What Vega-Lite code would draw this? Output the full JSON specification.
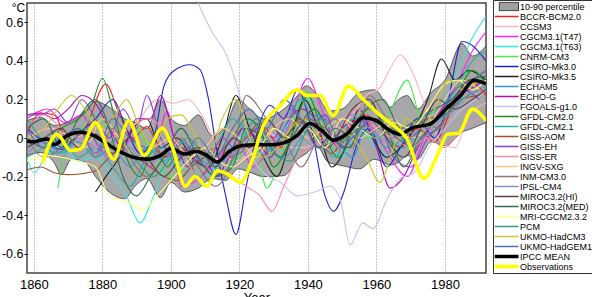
{
  "$schema": "https://vega.github.io/schema/vega-lite/v6.json",
  "width": 459,
  "height": 270,
  "autosize": {"type": "none"},
  "padding": {"left": 27, "top": 3, "right": 106, "bottom": 24},
  "background": "white",
  "config": {"view": {"stroke": "#444", "strokeWidth": 1.5}, "font": "Liberation Sans"},
  "datasets": {
    "band": [
      {"x":1858,"v":-0.09,"hi":0.09},{"x":1862,"v":-0.075,"hi":0.107},{"x":1866,"v":-0.13,"hi":0.065},{"x":1868,"v":-0.19,"hi":0.07},
      {"x":1871,"v":-0.11,"hi":0.09},{"x":1875,"v":-0.125,"hi":0.14},{"x":1878,"v":-0.2,"hi":0.19},{"x":1882,"v":-0.28,"hi":0.16},
      {"x":1886.5,"v":-0.315,"hi":0.1},{"x":1889.5,"v":-0.25,"hi":0.08},{"x":1893,"v":-0.21,"hi":0.05},{"x":1897,"v":-0.31,"hi":0.2},
      {"x":1900,"v":-0.23,"hi":0.1},{"x":1904,"v":-0.28,"hi":0.065},{"x":1908,"v":-0.26,"hi":0.12},{"x":1912,"v":-0.21,"hi":0.012},
      {"x":1916,"v":-0.22,"hi":0.064},{"x":1919.7,"v":-0.16,"hi":0.2},{"x":1923,"v":-0.177,"hi":0.15},{"x":1927,"v":-0.2,"hi":0.1},
      {"x":1933,"v":-0.195,"hi":0.15},{"x":1937,"v":-0.11,"hi":0.22},{"x":1939.5,"v":-0.08,"hi":0.27},{"x":1942.5,"v":-0.04,"hi":0.23},
      {"x":1946,"v":-0.126,"hi":0.14},{"x":1950,"v":-0.143,"hi":0.15},{"x":1955,"v":-0.16,"hi":0.236},{"x":1959.5,"v":-0.11,"hi":0.25},
      {"x":1964,"v":-0.14,"hi":0.16},{"x":1966.5,"v":-0.126,"hi":0.2},{"x":1969,"v":-0.09,"hi":0.22},{"x":1972,"v":-0.11,"hi":0.15},
      {"x":1976,"v":-0.02,"hi":0.236},{"x":1980,"v":-0.04,"hi":0.3},{"x":1985,"v":0.03,"hi":0.49},{"x":1988,"v":0.05,"hi":0.425},
      {"x":1992,"v":0.08,"hi":0.476}
    ],
    "big": [
      {"s":"IPCC MEAN","x":1858,"v":-0.015},{"s":"IPCC MEAN","x":1860,"v":-0.02},{"s":"IPCC MEAN","x":1862,"v":-0.01},{"s":"IPCC MEAN","x":1864,"v":-0.005},
      {"s":"IPCC MEAN","x":1866,"v":-0.035},{"s":"IPCC MEAN","x":1869.5,"v":0.01},{"s":"IPCC MEAN","x":1873.5,"v":0.03},{"s":"IPCC MEAN","x":1876.5,"v":0.02},
      {"s":"IPCC MEAN","x":1880.5,"v":-0.02},{"s":"IPCC MEAN","x":1884.5,"v":-0.065},{"s":"IPCC MEAN","x":1889,"v":-0.1},{"s":"IPCC MEAN","x":1893,"v":-0.11},
      {"s":"IPCC MEAN","x":1897,"v":-0.09},{"s":"IPCC MEAN","x":1900,"v":-0.055},{"s":"IPCC MEAN","x":1904,"v":-0.083},{"s":"IPCC MEAN","x":1907.5,"v":-0.07},
      {"s":"IPCC MEAN","x":1910.5,"v":-0.09},{"s":"IPCC MEAN","x":1913.5,"v":-0.125},{"s":"IPCC MEAN","x":1917,"v":-0.07},{"s":"IPCC MEAN","x":1920.5,"v":-0.04},
      {"s":"IPCC MEAN","x":1924.5,"v":-0.035},{"s":"IPCC MEAN","x":1929,"v":-0.035},{"s":"IPCC MEAN","x":1932,"v":-0.03},{"s":"IPCC MEAN","x":1936.8,"v":0.012},
      {"s":"IPCC MEAN","x":1940.5,"v":0.075},{"s":"IPCC MEAN","x":1944,"v":0.04},{"s":"IPCC MEAN","x":1947.5,"v":-0.012},{"s":"IPCC MEAN","x":1951.3,"v":0.02},
      {"s":"IPCC MEAN","x":1956.2,"v":0.105},{"s":"IPCC MEAN","x":1960,"v":0.09},{"s":"IPCC MEAN","x":1964,"v":0.038},{"s":"IPCC MEAN","x":1966.8,"v":0.02},
      {"s":"IPCC MEAN","x":1970.8,"v":0.055},{"s":"IPCC MEAN","x":1975.6,"v":0.072},{"s":"IPCC MEAN","x":1980.3,"v":0.15},{"s":"IPCC MEAN","x":1984.6,"v":0.22},
      {"s":"IPCC MEAN","x":1988.5,"v":0.3},{"s":"IPCC MEAN","x":1992,"v":0.28},
      {"s":"Observations","x":1862.5,"v":-0.13},{"s":"Observations","x":1866.8,"v":0.02},{"s":"Observations","x":1870.7,"v":-0.065},{"s":"Observations","x":1873.6,"v":-0.057},
      {"s":"Observations","x":1878,"v":0.08},{"s":"Observations","x":1883.3,"v":-0.11},{"s":"Observations","x":1887.7,"v":0.09},{"s":"Observations","x":1892.2,"v":-0.09},
      {"s":"Observations","x":1897.5,"v":0.05},{"s":"Observations","x":1900.5,"v":-0.05},{"s":"Observations","x":1904.2,"v":-0.25},{"s":"Observations","x":1907,"v":-0.2},
      {"s":"Observations","x":1910.5,"v":-0.25},{"s":"Observations","x":1913.5,"v":-0.17},{"s":"Observations","x":1916.4,"v":-0.186},{"s":"Observations","x":1920.4,"v":-0.23},
      {"s":"Observations","x":1923.5,"v":-0.126},{"s":"Observations","x":1927,"v":0.064},{"s":"Observations","x":1931.9,"v":0.167},{"s":"Observations","x":1936.8,"v":0.25},
      {"s":"Observations","x":1939.7,"v":0.22},{"s":"Observations","x":1943.6,"v":0.22},{"s":"Observations","x":1947.4,"v":0.115},{"s":"Observations","x":1951.8,"v":0.27},
      {"s":"Observations","x":1956.2,"v":0.2},{"s":"Observations","x":1960.1,"v":0.133},{"s":"Observations","x":1965,"v":0.064},{"s":"Observations","x":1968.8,"v":0.0},
      {"s":"Observations","x":1973.9,"v":-0.21},{"s":"Observations","x":1977.8,"v":-0.09},{"s":"Observations","x":1980.8,"v":0.02},{"s":"Observations","x":1984,"v":0.025},
      {"s":"Observations","x":1988,"v":0.15},{"s":"Observations","x":1992,"v":0.09}
    ],
    "models": [
      {"s":"BCCR-BCM2.0","x":1858,"v":0.02},{"s":"BCCR-BCM2.0","x":1862,"v":0.13},{"s":"BCCR-BCM2.0","x":1866,"v":0.12},{"s":"BCCR-BCM2.0","x":1870,"v":-0.02},{"s":"BCCR-BCM2.0","x":1875,"v":0.05},{"s":"BCCR-BCM2.0","x":1881,"v":0.28},{"s":"BCCR-BCM2.0","x":1885,"v":0.12},{"s":"BCCR-BCM2.0","x":1889,"v":0.0},{"s":"BCCR-BCM2.0","x":1893,"v":0.06},{"s":"BCCR-BCM2.0","x":1898,"v":-0.1},{"s":"BCCR-BCM2.0","x":1903,"v":-0.05},{"s":"BCCR-BCM2.0","x":1908,"v":-0.12},{"s":"BCCR-BCM2.0","x":1913,"v":-0.05},{"s":"BCCR-BCM2.0","x":1918,"v":-0.1},{"s":"BCCR-BCM2.0","x":1922,"v":0.0},{"s":"BCCR-BCM2.0","x":1927,"v":0.06},{"s":"BCCR-BCM2.0","x":1932,"v":-0.05},{"s":"BCCR-BCM2.0","x":1937,"v":0.1},{"s":"BCCR-BCM2.0","x":1942,"v":0.02},{"s":"BCCR-BCM2.0","x":1947,"v":-0.08},{"s":"BCCR-BCM2.0","x":1952,"v":0.06},{"s":"BCCR-BCM2.0","x":1957,"v":0.12},{"s":"BCCR-BCM2.0","x":1962,"v":0.02},{"s":"BCCR-BCM2.0","x":1967,"v":-0.05},{"s":"BCCR-BCM2.0","x":1972,"v":0.05},{"s":"BCCR-BCM2.0","x":1977,"v":-0.02},{"s":"BCCR-BCM2.0","x":1982,"v":0.15},{"s":"BCCR-BCM2.0","x":1987,"v":0.3},{"s":"BCCR-BCM2.0","x":1992,"v":0.22},
      {"s":"CCSM3","x":1858,"v":0.0},{"s":"CCSM3","x":1865,"v":0.05},{"s":"CCSM3","x":1872,"v":0.0},{"s":"CCSM3","x":1878,"v":0.06},{"s":"CCSM3","x":1884,"v":0.02},{"s":"CCSM3","x":1890,"v":0.08},{"s":"CCSM3","x":1896,"v":0.2},{"s":"CCSM3","x":1901,"v":0.18},{"s":"CCSM3","x":1905,"v":0.2},{"s":"CCSM3","x":1909,"v":0.12},{"s":"CCSM3","x":1914,"v":-0.05},{"s":"CCSM3","x":1919,"v":-0.12},{"s":"CCSM3","x":1924,"v":-0.05},{"s":"CCSM3","x":1929,"v":0.02},{"s":"CCSM3","x":1934,"v":-0.05},{"s":"CCSM3","x":1939,"v":-0.05},{"s":"CCSM3","x":1944,"v":0.0},{"s":"CCSM3","x":1949,"v":0.05},{"s":"CCSM3","x":1953,"v":0.12},{"s":"CCSM3","x":1957,"v":0.22},{"s":"CCSM3","x":1961,"v":0.26},{"s":"CCSM3","x":1964,"v":0.36},{"s":"CCSM3","x":1967,"v":0.43},{"s":"CCSM3","x":1971,"v":0.32},{"s":"CCSM3","x":1975,"v":0.13},{"s":"CCSM3","x":1979,"v":-0.02},{"s":"CCSM3","x":1983,"v":-0.05},{"s":"CCSM3","x":1987,"v":0.12},{"s":"CCSM3","x":1992,"v":0.18},
      {"s":"CGCM3.1(T47)","x":1858,"v":0.1},{"s":"CGCM3.1(T47)","x":1864,"v":0.15},{"s":"CGCM3.1(T47)","x":1869,"v":0.08},{"s":"CGCM3.1(T47)","x":1874,"v":0.12},{"s":"CGCM3.1(T47)","x":1879,"v":-0.05},{"s":"CGCM3.1(T47)","x":1884,"v":-0.1},{"s":"CGCM3.1(T47)","x":1889,"v":0.0},{"s":"CGCM3.1(T47)","x":1894,"v":-0.15},{"s":"CGCM3.1(T47)","x":1899,"v":0.14},{"s":"CGCM3.1(T47)","x":1903,"v":-0.25},{"s":"CGCM3.1(T47)","x":1909,"v":-0.2},{"s":"CGCM3.1(T47)","x":1914,"v":-0.1},{"s":"CGCM3.1(T47)","x":1919,"v":0.0},{"s":"CGCM3.1(T47)","x":1924,"v":-0.15},{"s":"CGCM3.1(T47)","x":1929,"v":-0.05},{"s":"CGCM3.1(T47)","x":1934,"v":0.05},{"s":"CGCM3.1(T47)","x":1940,"v":0.31},{"s":"CGCM3.1(T47)","x":1944,"v":0.15},{"s":"CGCM3.1(T47)","x":1949,"v":-0.05},{"s":"CGCM3.1(T47)","x":1954,"v":0.1},{"s":"CGCM3.1(T47)","x":1959,"v":0.05},{"s":"CGCM3.1(T47)","x":1964,"v":-0.1},{"s":"CGCM3.1(T47)","x":1969,"v":-0.2},{"s":"CGCM3.1(T47)","x":1974,"v":0.0},{"s":"CGCM3.1(T47)","x":1979,"v":0.15},{"s":"CGCM3.1(T47)","x":1984,"v":0.3},{"s":"CGCM3.1(T47)","x":1988,"v":0.45},{"s":"CGCM3.1(T47)","x":1992,"v":0.55},
      {"s":"CGCM3.1(T63)","x":1858,"v":-0.1},{"s":"CGCM3.1(T63)","x":1860,"v":-0.18},{"s":"CGCM3.1(T63)","x":1864,"v":-0.08},{"s":"CGCM3.1(T63)","x":1868,"v":-0.05},{"s":"CGCM3.1(T63)","x":1873,"v":-0.12},{"s":"CGCM3.1(T63)","x":1878,"v":-0.1},{"s":"CGCM3.1(T63)","x":1883,"v":-0.2},{"s":"CGCM3.1(T63)","x":1887,"v":-0.3},{"s":"CGCM3.1(T63)","x":1891,"v":-0.44},{"s":"CGCM3.1(T63)","x":1895,"v":-0.3},{"s":"CGCM3.1(T63)","x":1900,"v":-0.1},{"s":"CGCM3.1(T63)","x":1905,"v":-0.15},{"s":"CGCM3.1(T63)","x":1910,"v":-0.2},{"s":"CGCM3.1(T63)","x":1915,"v":-0.1},{"s":"CGCM3.1(T63)","x":1920,"v":0.0},{"s":"CGCM3.1(T63)","x":1925,"v":0.05},{"s":"CGCM3.1(T63)","x":1930,"v":-0.05},{"s":"CGCM3.1(T63)","x":1935,"v":0.1},{"s":"CGCM3.1(T63)","x":1940,"v":0.2},{"s":"CGCM3.1(T63)","x":1945,"v":0.0},{"s":"CGCM3.1(T63)","x":1950,"v":-0.1},{"s":"CGCM3.1(T63)","x":1955,"v":0.05},{"s":"CGCM3.1(T63)","x":1960,"v":-0.05},{"s":"CGCM3.1(T63)","x":1965,"v":-0.1},{"s":"CGCM3.1(T63)","x":1970,"v":0.05},{"s":"CGCM3.1(T63)","x":1975,"v":0.1},{"s":"CGCM3.1(T63)","x":1980,"v":0.2},{"s":"CGCM3.1(T63)","x":1985,"v":0.4},{"s":"CGCM3.1(T63)","x":1988,"v":0.52},{"s":"CGCM3.1(T63)","x":1992,"v":0.63},
      {"s":"CNRM-CM3","x":1867,"v":-0.26},{"s":"CNRM-CM3","x":1870,"v":-0.02},{"s":"CNRM-CM3","x":1874,"v":0.05},{"s":"CNRM-CM3","x":1878,"v":0.12},{"s":"CNRM-CM3","x":1882,"v":0.05},{"s":"CNRM-CM3","x":1886,"v":0.1},{"s":"CNRM-CM3","x":1890,"v":0.05},{"s":"CNRM-CM3","x":1895,"v":-0.1},{"s":"CNRM-CM3","x":1900,"v":-0.2},{"s":"CNRM-CM3","x":1905,"v":-0.15},{"s":"CNRM-CM3","x":1910,"v":-0.25},{"s":"CNRM-CM3","x":1915,"v":-0.15},{"s":"CNRM-CM3","x":1920,"v":-0.1},{"s":"CNRM-CM3","x":1924,"v":0.0},{"s":"CNRM-CM3","x":1928,"v":-0.26},{"s":"CNRM-CM3","x":1932,"v":-0.1},{"s":"CNRM-CM3","x":1936,"v":0.1},{"s":"CNRM-CM3","x":1939,"v":0.24},{"s":"CNRM-CM3","x":1943,"v":0.1},{"s":"CNRM-CM3","x":1948,"v":-0.05},{"s":"CNRM-CM3","x":1953,"v":0.02},{"s":"CNRM-CM3","x":1958,"v":0.0},{"s":"CNRM-CM3","x":1963,"v":0.1},{"s":"CNRM-CM3","x":1969,"v":0.3},{"s":"CNRM-CM3","x":1973,"v":0.1},{"s":"CNRM-CM3","x":1978,"v":0.05},{"s":"CNRM-CM3","x":1983,"v":0.25},{"s":"CNRM-CM3","x":1988,"v":0.35},{"s":"CNRM-CM3","x":1992,"v":0.3},
      {"s":"CSIRO-Mk3.0","x":1858,"v":0.05},{"s":"CSIRO-Mk3.0","x":1863,"v":-0.02},{"s":"CSIRO-Mk3.0","x":1868,"v":-0.06},{"s":"CSIRO-Mk3.0","x":1873,"v":0.02},{"s":"CSIRO-Mk3.0","x":1878,"v":0.1},{"s":"CSIRO-Mk3.0","x":1883,"v":0.2},{"s":"CSIRO-Mk3.0","x":1887,"v":0.05},{"s":"CSIRO-Mk3.0","x":1891,"v":-0.08},{"s":"CSIRO-Mk3.0","x":1895,"v":0.0},{"s":"CSIRO-Mk3.0","x":1898,"v":0.27},{"s":"CSIRO-Mk3.0","x":1901,"v":0.35},{"s":"CSIRO-Mk3.0","x":1905.5,"v":0.38},{"s":"CSIRO-Mk3.0","x":1908.5,"v":0.355},{"s":"CSIRO-Mk3.0","x":1911,"v":0.2},{"s":"CSIRO-Mk3.0","x":1913,"v":-0.02},{"s":"CSIRO-Mk3.0","x":1916,"v":-0.3},{"s":"CSIRO-Mk3.0","x":1919,"v":-0.5},{"s":"CSIRO-Mk3.0","x":1922,"v":-0.25},{"s":"CSIRO-Mk3.0","x":1925.5,"v":0.05},{"s":"CSIRO-Mk3.0","x":1929,"v":0.17},{"s":"CSIRO-Mk3.0","x":1933,"v":0.1},{"s":"CSIRO-Mk3.0","x":1937,"v":0.25},{"s":"CSIRO-Mk3.0","x":1941,"v":0.05},{"s":"CSIRO-Mk3.0","x":1945,"v":-0.3},{"s":"CSIRO-Mk3.0","x":1947.5,"v":-0.38},{"s":"CSIRO-Mk3.0","x":1950.5,"v":-0.28},{"s":"CSIRO-Mk3.0","x":1954,"v":-0.05},{"s":"CSIRO-Mk3.0","x":1958,"v":0.05},{"s":"CSIRO-Mk3.0","x":1963,"v":-0.15},{"s":"CSIRO-Mk3.0","x":1967,"v":-0.05},{"s":"CSIRO-Mk3.0","x":1972,"v":0.1},{"s":"CSIRO-Mk3.0","x":1977,"v":0.0},{"s":"CSIRO-Mk3.0","x":1981,"v":0.2},{"s":"CSIRO-Mk3.0","x":1985,"v":0.5},{"s":"CSIRO-Mk3.0","x":1988,"v":0.48},{"s":"CSIRO-Mk3.0","x":1992,"v":0.4},
      {"s":"CSIRO-Mk3.5","x":1878,"v":-0.28},{"s":"CSIRO-Mk3.5","x":1881,"v":-0.2},{"s":"CSIRO-Mk3.5","x":1885,"v":-0.1},{"s":"CSIRO-Mk3.5","x":1889,"v":0.05},{"s":"CSIRO-Mk3.5","x":1893,"v":0.1},{"s":"CSIRO-Mk3.5","x":1897,"v":-0.05},{"s":"CSIRO-Mk3.5","x":1902,"v":0.0},{"s":"CSIRO-Mk3.5","x":1906,"v":-0.1},{"s":"CSIRO-Mk3.5","x":1911,"v":-0.15},{"s":"CSIRO-Mk3.5","x":1915,"v":0.0},{"s":"CSIRO-Mk3.5","x":1919,"v":0.22},{"s":"CSIRO-Mk3.5","x":1923,"v":0.05},{"s":"CSIRO-Mk3.5","x":1927,"v":-0.1},{"s":"CSIRO-Mk3.5","x":1931,"v":-0.2},{"s":"CSIRO-Mk3.5","x":1935,"v":0.0},{"s":"CSIRO-Mk3.5","x":1939,"v":0.2},{"s":"CSIRO-Mk3.5","x":1943,"v":0.05},{"s":"CSIRO-Mk3.5","x":1947,"v":-0.15},{"s":"CSIRO-Mk3.5","x":1951,"v":-0.05},{"s":"CSIRO-Mk3.5","x":1955,"v":0.15},{"s":"CSIRO-Mk3.5","x":1959,"v":0.0},{"s":"CSIRO-Mk3.5","x":1963,"v":-0.1},{"s":"CSIRO-Mk3.5","x":1967,"v":-0.05},{"s":"CSIRO-Mk3.5","x":1971,"v":0.05},{"s":"CSIRO-Mk3.5","x":1975,"v":0.2},{"s":"CSIRO-Mk3.5","x":1979,"v":0.41},{"s":"CSIRO-Mk3.5","x":1983,"v":0.3},{"s":"CSIRO-Mk3.5","x":1987,"v":0.35},{"s":"CSIRO-Mk3.5","x":1992,"v":0.3},
      {"s":"ECHAM5","x":1858,"v":-0.05},{"s":"ECHAM5","x":1863,"v":0.0},{"s":"ECHAM5","x":1868,"v":-0.08},{"s":"ECHAM5","x":1873,"v":-0.02},{"s":"ECHAM5","x":1878,"v":-0.1},{"s":"ECHAM5","x":1883,"v":-0.05},{"s":"ECHAM5","x":1888,"v":-0.15},{"s":"ECHAM5","x":1893,"v":-0.05},{"s":"ECHAM5","x":1898,"v":-0.12},{"s":"ECHAM5","x":1903,"v":-0.02},{"s":"ECHAM5","x":1908,"v":-0.1},{"s":"ECHAM5","x":1913,"v":-0.15},{"s":"ECHAM5","x":1918,"v":-0.05},{"s":"ECHAM5","x":1923,"v":0.1},{"s":"ECHAM5","x":1928,"v":-0.05},{"s":"ECHAM5","x":1933,"v":-0.1},{"s":"ECHAM5","x":1938,"v":0.0},{"s":"ECHAM5","x":1943,"v":0.12},{"s":"ECHAM5","x":1948,"v":0.0},{"s":"ECHAM5","x":1953,"v":-0.1},{"s":"ECHAM5","x":1958,"v":0.1},{"s":"ECHAM5","x":1963,"v":0.0},{"s":"ECHAM5","x":1968,"v":-0.05},{"s":"ECHAM5","x":1973,"v":0.05},{"s":"ECHAM5","x":1978,"v":0.1},{"s":"ECHAM5","x":1983,"v":0.15},{"s":"ECHAM5","x":1988,"v":0.3},{"s":"ECHAM5","x":1992,"v":0.25},
      {"s":"ECHO-G","x":1858,"v":0.12},{"s":"ECHO-G","x":1862,"v":0.13},{"s":"ECHO-G","x":1866,"v":0.1},{"s":"ECHO-G","x":1870,"v":0.15},{"s":"ECHO-G","x":1874,"v":0.22},{"s":"ECHO-G","x":1878,"v":0.18},{"s":"ECHO-G","x":1882,"v":0.05},{"s":"ECHO-G","x":1886,"v":-0.05},{"s":"ECHO-G","x":1890,"v":0.1},{"s":"ECHO-G","x":1894,"v":0.1},{"s":"ECHO-G","x":1897,"v":0.22},{"s":"ECHO-G","x":1901,"v":0.0},{"s":"ECHO-G","x":1905,"v":-0.15},{"s":"ECHO-G","x":1909,"v":-0.05},{"s":"ECHO-G","x":1913,"v":-0.2},{"s":"ECHO-G","x":1917,"v":-0.1},{"s":"ECHO-G","x":1921,"v":0.05},{"s":"ECHO-G","x":1925,"v":0.0},{"s":"ECHO-G","x":1929,"v":-0.1},{"s":"ECHO-G","x":1933,"v":0.05},{"s":"ECHO-G","x":1938,"v":0.15},{"s":"ECHO-G","x":1942,"v":0.1},{"s":"ECHO-G","x":1946,"v":-0.05},{"s":"ECHO-G","x":1950,"v":0.05},{"s":"ECHO-G","x":1955,"v":0.1},{"s":"ECHO-G","x":1960,"v":-0.05},{"s":"ECHO-G","x":1964,"v":-0.26},{"s":"ECHO-G","x":1968,"v":-0.2},{"s":"ECHO-G","x":1972,"v":-0.05},{"s":"ECHO-G","x":1977,"v":0.1},{"s":"ECHO-G","x":1982,"v":0.2},{"s":"ECHO-G","x":1987,"v":0.25},{"s":"ECHO-G","x":1992,"v":0.3},
      {"s":"FGOALS-g1.0","x":1900,"v":1.1},{"s":"FGOALS-g1.0","x":1905,"v":0.85},{"s":"FGOALS-g1.0","x":1908,"v":0.7},{"s":"FGOALS-g1.0","x":1912,"v":0.55},{"s":"FGOALS-g1.0","x":1916,"v":0.44},{"s":"FGOALS-g1.0","x":1919,"v":0.29},{"s":"FGOALS-g1.0","x":1921,"v":0.15},{"s":"FGOALS-g1.0","x":1923,"v":-0.05},{"s":"FGOALS-g1.0","x":1927,"v":-0.18},{"s":"FGOALS-g1.0","x":1932,"v":-0.23},{"s":"FGOALS-g1.0","x":1937,"v":-0.3},{"s":"FGOALS-g1.0","x":1942,"v":-0.28},{"s":"FGOALS-g1.0","x":1946.5,"v":-0.25},{"s":"FGOALS-g1.0","x":1949.5,"v":-0.32},{"s":"FGOALS-g1.0","x":1952.3,"v":-0.555},{"s":"FGOALS-g1.0","x":1956,"v":-0.44},{"s":"FGOALS-g1.0","x":1959,"v":-0.47},{"s":"FGOALS-g1.0","x":1963,"v":-0.32},{"s":"FGOALS-g1.0","x":1967,"v":-0.21},{"s":"FGOALS-g1.0","x":1971,"v":-0.18},{"s":"FGOALS-g1.0","x":1975.6,"v":-0.04},{"s":"FGOALS-g1.0","x":1980,"v":0.05},{"s":"FGOALS-g1.0","x":1985,"v":0.15},{"s":"FGOALS-g1.0","x":1989,"v":0.2},{"s":"FGOALS-g1.0","x":1992,"v":0.25},
      {"s":"GFDL-CM2.0","x":1858,"v":0.0},{"s":"GFDL-CM2.0","x":1863,"v":-0.05},{"s":"GFDL-CM2.0","x":1868,"v":0.05},{"s":"GFDL-CM2.0","x":1873,"v":0.1},{"s":"GFDL-CM2.0","x":1877,"v":0.18},{"s":"GFDL-CM2.0","x":1880,"v":0.31},{"s":"GFDL-CM2.0","x":1883,"v":0.15},{"s":"GFDL-CM2.0","x":1887,"v":-0.1},{"s":"GFDL-CM2.0","x":1891,"v":-0.2},{"s":"GFDL-CM2.0","x":1895,"v":-0.05},{"s":"GFDL-CM2.0","x":1899,"v":-0.15},{"s":"GFDL-CM2.0","x":1903,"v":-0.05},{"s":"GFDL-CM2.0","x":1908,"v":-0.2},{"s":"GFDL-CM2.0","x":1913,"v":-0.1},{"s":"GFDL-CM2.0","x":1918,"v":0.0},{"s":"GFDL-CM2.0","x":1922,"v":0.1},{"s":"GFDL-CM2.0","x":1926,"v":0.05},{"s":"GFDL-CM2.0","x":1930,"v":-0.15},{"s":"GFDL-CM2.0","x":1935,"v":0.0},{"s":"GFDL-CM2.0","x":1940,"v":0.22},{"s":"GFDL-CM2.0","x":1944,"v":0.05},{"s":"GFDL-CM2.0","x":1949,"v":-0.1},{"s":"GFDL-CM2.0","x":1953,"v":0.05},{"s":"GFDL-CM2.0","x":1958,"v":0.15},{"s":"GFDL-CM2.0","x":1963,"v":0.05},{"s":"GFDL-CM2.0","x":1968,"v":-0.15},{"s":"GFDL-CM2.0","x":1973,"v":0.0},{"s":"GFDL-CM2.0","x":1978,"v":0.05},{"s":"GFDL-CM2.0","x":1983,"v":0.2},{"s":"GFDL-CM2.0","x":1988,"v":0.35},{"s":"GFDL-CM2.0","x":1992,"v":0.28},
      {"s":"GFDL-CM2.1","x":1858,"v":-0.1},{"s":"GFDL-CM2.1","x":1863,"v":-0.05},{"s":"GFDL-CM2.1","x":1868,"v":0.0},{"s":"GFDL-CM2.1","x":1873,"v":-0.1},{"s":"GFDL-CM2.1","x":1878,"v":-0.05},{"s":"GFDL-CM2.1","x":1883,"v":-0.15},{"s":"GFDL-CM2.1","x":1888,"v":-0.25},{"s":"GFDL-CM2.1","x":1893,"v":-0.1},{"s":"GFDL-CM2.1","x":1898,"v":-0.05},{"s":"GFDL-CM2.1","x":1903,"v":-0.2},{"s":"GFDL-CM2.1","x":1908,"v":-0.1},{"s":"GFDL-CM2.1","x":1913,"v":-0.05},{"s":"GFDL-CM2.1","x":1918,"v":0.1},{"s":"GFDL-CM2.1","x":1923,"v":0.0},{"s":"GFDL-CM2.1","x":1928,"v":-0.1},{"s":"GFDL-CM2.1","x":1933,"v":0.05},{"s":"GFDL-CM2.1","x":1938,"v":0.2},{"s":"GFDL-CM2.1","x":1943,"v":0.0},{"s":"GFDL-CM2.1","x":1948,"v":-0.1},{"s":"GFDL-CM2.1","x":1953,"v":0.1},{"s":"GFDL-CM2.1","x":1958,"v":0.05},{"s":"GFDL-CM2.1","x":1963,"v":-0.05},{"s":"GFDL-CM2.1","x":1968,"v":0.0},{"s":"GFDL-CM2.1","x":1973,"v":0.1},{"s":"GFDL-CM2.1","x":1978,"v":0.15},{"s":"GFDL-CM2.1","x":1983,"v":0.25},{"s":"GFDL-CM2.1","x":1988,"v":0.4},{"s":"GFDL-CM2.1","x":1992,"v":0.45},
      {"s":"GISS-AOM","x":1858,"v":-0.165},{"s":"GISS-AOM","x":1862,"v":-0.15},{"s":"GISS-AOM","x":1866,"v":-0.18},{"s":"GISS-AOM","x":1870,"v":-0.19},{"s":"GISS-AOM","x":1874,"v":-0.185},{"s":"GISS-AOM","x":1878,"v":-0.17},{"s":"GISS-AOM","x":1882,"v":-0.1},{"s":"GISS-AOM","x":1886,"v":-0.05},{"s":"GISS-AOM","x":1890,"v":-0.1},{"s":"GISS-AOM","x":1894,"v":-0.15},{"s":"GISS-AOM","x":1898,"v":-0.2},{"s":"GISS-AOM","x":1902,"v":-0.22},{"s":"GISS-AOM","x":1906,"v":-0.15},{"s":"GISS-AOM","x":1910,"v":-0.1},{"s":"GISS-AOM","x":1914,"v":-0.12},{"s":"GISS-AOM","x":1918,"v":-0.05},{"s":"GISS-AOM","x":1922,"v":0.0},{"s":"GISS-AOM","x":1926,"v":0.08},{"s":"GISS-AOM","x":1930,"v":-0.05},{"s":"GISS-AOM","x":1935,"v":0.05},{"s":"GISS-AOM","x":1940,"v":0.1},{"s":"GISS-AOM","x":1945,"v":0.05},{"s":"GISS-AOM","x":1950,"v":0.0},{"s":"GISS-AOM","x":1955,"v":0.05},{"s":"GISS-AOM","x":1960,"v":0.08},{"s":"GISS-AOM","x":1965,"v":0.0},{"s":"GISS-AOM","x":1970,"v":0.05},{"s":"GISS-AOM","x":1975,"v":0.1},{"s":"GISS-AOM","x":1980,"v":0.12},{"s":"GISS-AOM","x":1985,"v":0.2},{"s":"GISS-AOM","x":1990,"v":0.22},
      {"s":"GISS-EH","x":1858,"v":0.12},{"s":"GISS-EH","x":1862,"v":0.12},{"s":"GISS-EH","x":1866,"v":0.15},{"s":"GISS-EH","x":1870,"v":0.08},{"s":"GISS-EH","x":1874,"v":0.2},{"s":"GISS-EH","x":1878,"v":0.1},{"s":"GISS-EH","x":1882,"v":0.0},{"s":"GISS-EH","x":1886,"v":0.15},{"s":"GISS-EH","x":1890,"v":0.05},{"s":"GISS-EH","x":1893,"v":0.22},{"s":"GISS-EH","x":1897,"v":0.0},{"s":"GISS-EH","x":1901,"v":-0.1},{"s":"GISS-EH","x":1905,"v":-0.05},{"s":"GISS-EH","x":1910,"v":-0.15},{"s":"GISS-EH","x":1915,"v":0.0},{"s":"GISS-EH","x":1920,"v":-0.08},{"s":"GISS-EH","x":1925,"v":0.05},{"s":"GISS-EH","x":1930,"v":0.0},{"s":"GISS-EH","x":1935,"v":0.15},{"s":"GISS-EH","x":1940,"v":0.05},{"s":"GISS-EH","x":1945,"v":0.12},{"s":"GISS-EH","x":1950,"v":-0.05},{"s":"GISS-EH","x":1955,"v":0.05},{"s":"GISS-EH","x":1960,"v":0.1},{"s":"GISS-EH","x":1965,"v":-0.1},{"s":"GISS-EH","x":1970,"v":-0.15},{"s":"GISS-EH","x":1975,"v":0.0},{"s":"GISS-EH","x":1980,"v":0.1},{"s":"GISS-EH","x":1985,"v":0.25},{"s":"GISS-EH","x":1990,"v":0.2},
      {"s":"GISS-ER","x":1858,"v":0.05},{"s":"GISS-ER","x":1863,"v":0.12},{"s":"GISS-ER","x":1868,"v":0.05},{"s":"GISS-ER","x":1873,"v":0.0},{"s":"GISS-ER","x":1878,"v":-0.05},{"s":"GISS-ER","x":1883,"v":0.0},{"s":"GISS-ER","x":1888,"v":0.05},{"s":"GISS-ER","x":1893,"v":0.1},{"s":"GISS-ER","x":1898,"v":0.05},{"s":"GISS-ER","x":1903,"v":-0.05},{"s":"GISS-ER","x":1908,"v":-0.2},{"s":"GISS-ER","x":1913,"v":-0.1},{"s":"GISS-ER","x":1918,"v":-0.2},{"s":"GISS-ER","x":1922,"v":-0.25},{"s":"GISS-ER","x":1926,"v":-0.3},{"s":"GISS-ER","x":1929.5,"v":-0.38},{"s":"GISS-ER","x":1933,"v":-0.25},{"s":"GISS-ER","x":1937,"v":-0.1},{"s":"GISS-ER","x":1941,"v":-0.05},{"s":"GISS-ER","x":1945,"v":0.0},{"s":"GISS-ER","x":1950,"v":0.1},{"s":"GISS-ER","x":1955,"v":0.15},{"s":"GISS-ER","x":1960,"v":0.05},{"s":"GISS-ER","x":1965,"v":0.0},{"s":"GISS-ER","x":1970,"v":-0.05},{"s":"GISS-ER","x":1975,"v":0.0},{"s":"GISS-ER","x":1980,"v":-0.05},{"s":"GISS-ER","x":1985,"v":0.05},{"s":"GISS-ER","x":1990,"v":0.1},
      {"s":"INGV-SXG","x":1870,"v":0.0},{"s":"INGV-SXG","x":1875,"v":-0.05},{"s":"INGV-SXG","x":1880,"v":0.1},{"s":"INGV-SXG","x":1885,"v":0.0},{"s":"INGV-SXG","x":1890,"v":-0.1},{"s":"INGV-SXG","x":1895,"v":-0.05},{"s":"INGV-SXG","x":1900,"v":0.0},{"s":"INGV-SXG","x":1905,"v":-0.1},{"s":"INGV-SXG","x":1910,"v":-0.05},{"s":"INGV-SXG","x":1915,"v":0.05},{"s":"INGV-SXG","x":1920,"v":0.0},{"s":"INGV-SXG","x":1925,"v":-0.1},{"s":"INGV-SXG","x":1930,"v":0.05},{"s":"INGV-SXG","x":1935,"v":0.1},{"s":"INGV-SXG","x":1940,"v":0.0},{"s":"INGV-SXG","x":1945,"v":0.05},{"s":"INGV-SXG","x":1950,"v":0.1},{"s":"INGV-SXG","x":1955,"v":0.0},{"s":"INGV-SXG","x":1960,"v":0.05},{"s":"INGV-SXG","x":1965,"v":0.1},{"s":"INGV-SXG","x":1970,"v":0.0},{"s":"INGV-SXG","x":1975,"v":0.05},{"s":"INGV-SXG","x":1980,"v":0.2},{"s":"INGV-SXG","x":1985,"v":0.3},{"s":"INGV-SXG","x":1990,"v":0.25},
      {"s":"INM-CM3.0","x":1858,"v":0.0},{"s":"INM-CM3.0","x":1863,"v":-0.1},{"s":"INM-CM3.0","x":1868,"v":-0.05},{"s":"INM-CM3.0","x":1873,"v":0.05},{"s":"INM-CM3.0","x":1878,"v":-0.1},{"s":"INM-CM3.0","x":1883,"v":0.05},{"s":"INM-CM3.0","x":1888,"v":-0.1},{"s":"INM-CM3.0","x":1893,"v":-0.2},{"s":"INM-CM3.0","x":1898,"v":-0.1},{"s":"INM-CM3.0","x":1903,"v":0.0},{"s":"INM-CM3.0","x":1908,"v":-0.15},{"s":"INM-CM3.0","x":1913,"v":-0.25},{"s":"INM-CM3.0","x":1918,"v":-0.1},{"s":"INM-CM3.0","x":1922,"v":0.22},{"s":"INM-CM3.0","x":1928,"v":0.1},{"s":"INM-CM3.0","x":1933,"v":0.0},{"s":"INM-CM3.0","x":1938,"v":-0.15},{"s":"INM-CM3.0","x":1943,"v":0.0},{"s":"INM-CM3.0","x":1948,"v":0.1},{"s":"INM-CM3.0","x":1953,"v":-0.05},{"s":"INM-CM3.0","x":1958,"v":0.22},{"s":"INM-CM3.0","x":1963,"v":0.1},{"s":"INM-CM3.0","x":1968,"v":0.0},{"s":"INM-CM3.0","x":1973,"v":0.1},{"s":"INM-CM3.0","x":1978,"v":0.05},{"s":"INM-CM3.0","x":1983,"v":0.2},{"s":"INM-CM3.0","x":1988,"v":0.3},{"s":"INM-CM3.0","x":1992,"v":0.35},
      {"s":"IPSL-CM4","x":1858,"v":-0.08},{"s":"IPSL-CM4","x":1863,"v":-0.02},{"s":"IPSL-CM4","x":1868,"v":-0.1},{"s":"IPSL-CM4","x":1873,"v":0.0},{"s":"IPSL-CM4","x":1878,"v":-0.05},{"s":"IPSL-CM4","x":1883,"v":-0.12},{"s":"IPSL-CM4","x":1888,"v":-0.05},{"s":"IPSL-CM4","x":1893,"v":-0.15},{"s":"IPSL-CM4","x":1898,"v":-0.08},{"s":"IPSL-CM4","x":1903,"v":-0.12},{"s":"IPSL-CM4","x":1908,"v":-0.02},{"s":"IPSL-CM4","x":1913,"v":-0.15},{"s":"IPSL-CM4","x":1918,"v":-0.08},{"s":"IPSL-CM4","x":1923,"v":0.0},{"s":"IPSL-CM4","x":1928,"v":-0.1},{"s":"IPSL-CM4","x":1933,"v":0.05},{"s":"IPSL-CM4","x":1938,"v":0.0},{"s":"IPSL-CM4","x":1943,"v":-0.05},{"s":"IPSL-CM4","x":1948,"v":0.05},{"s":"IPSL-CM4","x":1953,"v":0.12},{"s":"IPSL-CM4","x":1958,"v":0.05},{"s":"IPSL-CM4","x":1963,"v":-0.02},{"s":"IPSL-CM4","x":1968,"v":0.05},{"s":"IPSL-CM4","x":1973,"v":0.0},{"s":"IPSL-CM4","x":1978,"v":0.08},{"s":"IPSL-CM4","x":1983,"v":0.15},{"s":"IPSL-CM4","x":1988,"v":0.25},{"s":"IPSL-CM4","x":1992,"v":0.3},
      {"s":"MIROC3.2(HI)","x":1858,"v":-0.05},{"s":"MIROC3.2(HI)","x":1863,"v":0.0},{"s":"MIROC3.2(HI)","x":1868,"v":0.05},{"s":"MIROC3.2(HI)","x":1873,"v":-0.05},{"s":"MIROC3.2(HI)","x":1878,"v":0.02},{"s":"MIROC3.2(HI)","x":1883,"v":-0.08},{"s":"MIROC3.2(HI)","x":1888,"v":0.0},{"s":"MIROC3.2(HI)","x":1893,"v":-0.1},{"s":"MIROC3.2(HI)","x":1898,"v":-0.2},{"s":"MIROC3.2(HI)","x":1903,"v":-0.1},{"s":"MIROC3.2(HI)","x":1908,"v":-0.05},{"s":"MIROC3.2(HI)","x":1913,"v":-0.15},{"s":"MIROC3.2(HI)","x":1918,"v":0.0},{"s":"MIROC3.2(HI)","x":1923,"v":-0.05},{"s":"MIROC3.2(HI)","x":1928,"v":0.1},{"s":"MIROC3.2(HI)","x":1933,"v":0.0},{"s":"MIROC3.2(HI)","x":1938,"v":0.1},{"s":"MIROC3.2(HI)","x":1943,"v":-0.05},{"s":"MIROC3.2(HI)","x":1948,"v":0.0},{"s":"MIROC3.2(HI)","x":1953,"v":0.15},{"s":"MIROC3.2(HI)","x":1958,"v":0.2},{"s":"MIROC3.2(HI)","x":1963,"v":0.0},{"s":"MIROC3.2(HI)","x":1968,"v":-0.1},{"s":"MIROC3.2(HI)","x":1973,"v":0.05},{"s":"MIROC3.2(HI)","x":1978,"v":0.2},{"s":"MIROC3.2(HI)","x":1983,"v":0.15},{"s":"MIROC3.2(HI)","x":1988,"v":0.2},{"s":"MIROC3.2(HI)","x":1992,"v":0.25},
      {"s":"MIROC3.2(MED)","x":1858,"v":0.05},{"s":"MIROC3.2(MED)","x":1863,"v":0.1},{"s":"MIROC3.2(MED)","x":1868,"v":-0.05},{"s":"MIROC3.2(MED)","x":1873,"v":0.1},{"s":"MIROC3.2(MED)","x":1878,"v":0.2},{"s":"MIROC3.2(MED)","x":1882,"v":0.05},{"s":"MIROC3.2(MED)","x":1886,"v":-0.2},{"s":"MIROC3.2(MED)","x":1890,"v":-0.3},{"s":"MIROC3.2(MED)","x":1894,"v":-0.2},{"s":"MIROC3.2(MED)","x":1898,"v":-0.1},{"s":"MIROC3.2(MED)","x":1903,"v":0.05},{"s":"MIROC3.2(MED)","x":1908,"v":-0.1},{"s":"MIROC3.2(MED)","x":1913,"v":-0.2},{"s":"MIROC3.2(MED)","x":1918,"v":-0.15},{"s":"MIROC3.2(MED)","x":1922,"v":0.05},{"s":"MIROC3.2(MED)","x":1927,"v":0.0},{"s":"MIROC3.2(MED)","x":1932,"v":-0.1},{"s":"MIROC3.2(MED)","x":1937,"v":0.05},{"s":"MIROC3.2(MED)","x":1942,"v":0.15},{"s":"MIROC3.2(MED)","x":1947,"v":0.0},{"s":"MIROC3.2(MED)","x":1952,"v":-0.05},{"s":"MIROC3.2(MED)","x":1957,"v":0.15},{"s":"MIROC3.2(MED)","x":1962,"v":0.2},{"s":"MIROC3.2(MED)","x":1967,"v":0.05},{"s":"MIROC3.2(MED)","x":1972,"v":0.1},{"s":"MIROC3.2(MED)","x":1977,"v":0.15},{"s":"MIROC3.2(MED)","x":1982,"v":0.2},{"s":"MIROC3.2(MED)","x":1987,"v":0.3},{"s":"MIROC3.2(MED)","x":1992,"v":0.32},
      {"s":"MRI-CGCM2.3.2","x":1858,"v":-0.12},{"s":"MRI-CGCM2.3.2","x":1863,"v":-0.09},{"s":"MRI-CGCM2.3.2","x":1868,"v":-0.1},{"s":"MRI-CGCM2.3.2","x":1873,"v":-0.12},{"s":"MRI-CGCM2.3.2","x":1878,"v":-0.15},{"s":"MRI-CGCM2.3.2","x":1882,"v":-0.3},{"s":"MRI-CGCM2.3.2","x":1887,"v":-0.33},{"s":"MRI-CGCM2.3.2","x":1892,"v":-0.37},{"s":"MRI-CGCM2.3.2","x":1896,"v":-0.3},{"s":"MRI-CGCM2.3.2","x":1901,"v":-0.2},{"s":"MRI-CGCM2.3.2","x":1905,"v":-0.12},{"s":"MRI-CGCM2.3.2","x":1910,"v":-0.05},{"s":"MRI-CGCM2.3.2","x":1914,"v":-0.12},{"s":"MRI-CGCM2.3.2","x":1918,"v":-0.15},{"s":"MRI-CGCM2.3.2","x":1922,"v":-0.1},{"s":"MRI-CGCM2.3.2","x":1926,"v":-0.05},{"s":"MRI-CGCM2.3.2","x":1930,"v":0.05},{"s":"MRI-CGCM2.3.2","x":1935,"v":0.0},{"s":"MRI-CGCM2.3.2","x":1940,"v":0.05},{"s":"MRI-CGCM2.3.2","x":1945,"v":-0.05},{"s":"MRI-CGCM2.3.2","x":1950,"v":0.1},{"s":"MRI-CGCM2.3.2","x":1955,"v":0.05},{"s":"MRI-CGCM2.3.2","x":1960,"v":0.0},{"s":"MRI-CGCM2.3.2","x":1965,"v":0.08},{"s":"MRI-CGCM2.3.2","x":1970,"v":0.05},{"s":"MRI-CGCM2.3.2","x":1975,"v":0.15},{"s":"MRI-CGCM2.3.2","x":1980,"v":0.28},{"s":"MRI-CGCM2.3.2","x":1984,"v":0.3},{"s":"MRI-CGCM2.3.2","x":1988,"v":0.25},{"s":"MRI-CGCM2.3.2","x":1992,"v":0.3},
      {"s":"PCM","x":1858,"v":0.1},{"s":"PCM","x":1862,"v":0.0},{"s":"PCM","x":1866,"v":-0.08},{"s":"PCM","x":1870,"v":-0.05},{"s":"PCM","x":1875,"v":0.05},{"s":"PCM","x":1880,"v":-0.05},{"s":"PCM","x":1885,"v":0.0},{"s":"PCM","x":1890,"v":-0.12},{"s":"PCM","x":1895,"v":-0.2},{"s":"PCM","x":1900,"v":-0.1},{"s":"PCM","x":1905,"v":0.0},{"s":"PCM","x":1910,"v":-0.1},{"s":"PCM","x":1915,"v":-0.18},{"s":"PCM","x":1920,"v":-0.05},{"s":"PCM","x":1925,"v":0.1},{"s":"PCM","x":1930,"v":-0.08},{"s":"PCM","x":1935,"v":-0.12},{"s":"PCM","x":1940,"v":0.05},{"s":"PCM","x":1945,"v":0.1},{"s":"PCM","x":1950,"v":-0.02},{"s":"PCM","x":1955,"v":0.05},{"s":"PCM","x":1960,"v":0.0},{"s":"PCM","x":1965,"v":0.05},{"s":"PCM","x":1970,"v":-0.05},{"s":"PCM","x":1975,"v":0.05},{"s":"PCM","x":1980,"v":0.12},{"s":"PCM","x":1985,"v":0.2},{"s":"PCM","x":1990,"v":0.25},
      {"s":"UKMO-HadCM3","x":1858,"v":0.0},{"s":"UKMO-HadCM3","x":1863,"v":0.05},{"s":"UKMO-HadCM3","x":1867,"v":0.15},{"s":"UKMO-HadCM3","x":1871,"v":0.22},{"s":"UKMO-HadCM3","x":1875,"v":0.15},{"s":"UKMO-HadCM3","x":1879,"v":0.05},{"s":"UKMO-HadCM3","x":1883,"v":0.1},{"s":"UKMO-HadCM3","x":1887,"v":0.2},{"s":"UKMO-HadCM3","x":1891,"v":0.05},{"s":"UKMO-HadCM3","x":1895,"v":-0.05},{"s":"UKMO-HadCM3","x":1899,"v":0.1},{"s":"UKMO-HadCM3","x":1903,"v":0.12},{"s":"UKMO-HadCM3","x":1907,"v":0.02},{"s":"UKMO-HadCM3","x":1911,"v":-0.1},{"s":"UKMO-HadCM3","x":1915,"v":0.1},{"s":"UKMO-HadCM3","x":1919,"v":0.2},{"s":"UKMO-HadCM3","x":1923,"v":0.0},{"s":"UKMO-HadCM3","x":1927,"v":-0.1},{"s":"UKMO-HadCM3","x":1931,"v":-0.05},{"s":"UKMO-HadCM3","x":1935,"v":0.05},{"s":"UKMO-HadCM3","x":1939,"v":0.1},{"s":"UKMO-HadCM3","x":1944,"v":0.0},{"s":"UKMO-HadCM3","x":1949,"v":0.05},{"s":"UKMO-HadCM3","x":1953,"v":0.0},{"s":"UKMO-HadCM3","x":1957,"v":-0.1},{"s":"UKMO-HadCM3","x":1961,"v":-0.23},{"s":"UKMO-HadCM3","x":1965,"v":-0.05},{"s":"UKMO-HadCM3","x":1969,"v":0.1},{"s":"UKMO-HadCM3","x":1973,"v":0.05},{"s":"UKMO-HadCM3","x":1977,"v":0.15},{"s":"UKMO-HadCM3","x":1981,"v":0.3},{"s":"UKMO-HadCM3","x":1985,"v":0.25},{"s":"UKMO-HadCM3","x":1990,"v":0.3},
      {"s":"UKMO-HadGEM1","x":1858,"v":0.05},{"s":"UKMO-HadGEM1","x":1863,"v":-0.05},{"s":"UKMO-HadGEM1","x":1868,"v":0.0},{"s":"UKMO-HadGEM1","x":1873,"v":0.05},{"s":"UKMO-HadGEM1","x":1878,"v":-0.08},{"s":"UKMO-HadGEM1","x":1883,"v":0.1},{"s":"UKMO-HadGEM1","x":1888,"v":0.0},{"s":"UKMO-HadGEM1","x":1893,"v":-0.05},{"s":"UKMO-HadGEM1","x":1898,"v":0.05},{"s":"UKMO-HadGEM1","x":1903,"v":-0.1},{"s":"UKMO-HadGEM1","x":1908,"v":0.0},{"s":"UKMO-HadGEM1","x":1913,"v":-0.1},{"s":"UKMO-HadGEM1","x":1918,"v":0.05},{"s":"UKMO-HadGEM1","x":1923,"v":0.15},{"s":"UKMO-HadGEM1","x":1928,"v":0.05},{"s":"UKMO-HadGEM1","x":1933,"v":0.2},{"s":"UKMO-HadGEM1","x":1938,"v":0.1},{"s":"UKMO-HadGEM1","x":1943,"v":-0.05},{"s":"UKMO-HadGEM1","x":1948,"v":0.05},{"s":"UKMO-HadGEM1","x":1953,"v":0.0},{"s":"UKMO-HadGEM1","x":1958,"v":0.1},{"s":"UKMO-HadGEM1","x":1963,"v":0.05},{"s":"UKMO-HadGEM1","x":1968,"v":-0.02},{"s":"UKMO-HadGEM1","x":1973,"v":0.05},{"s":"UKMO-HadGEM1","x":1978,"v":0.1},{"s":"UKMO-HadGEM1","x":1983,"v":0.25},{"s":"UKMO-HadGEM1","x":1988,"v":0.3},{"s":"UKMO-HadGEM1","x":1992,"v":0.35}
    ]
  },
  "encoding": {
    "x": {"field": "x", "type": "quantitative", "scale": {"domain": [1858, 1992], "nice": false, "zero": false},
      "axis": {"title": "Year", "values": [1860, 1880, 1900, 1920, 1940, 1960, 1980], "format": "d", "grid": true, "gridDash": [1, 2], "gridColor": "#8a8a8a", "gridWidth": 1, "ticks": false, "domain": false, "labelFontSize": 13, "labelColor": "#000", "labelPadding": 5, "labelFont": "Liberation Sans", "titleFont": "Liberation Sans", "titleFontSize": 13, "titleFontWeight": "normal", "titleColor": "#000", "titleBaseline": "top", "titleY": 18}},
    "y": {"field": "v", "type": "quantitative", "scale": {"domain": [-0.7, 0.7], "nice": false, "zero": false},
      "axis": {"title": "°C", "values": [-0.6, -0.4, -0.2, 0, 0.2, 0.4, 0.6], "labelExpr": "datum.value == 0 ? '0' : toString(round(datum.value * 10) / 10)", "grid": false, "tickSize": 3, "tickColor": "#000", "labelPadding": 1, "domain": false, "labelFontSize": 12.5, "labelColor": "#000", "labelFont": "Liberation Sans", "titleFont": "Liberation Sans", "titleAngle": 0, "titleX": -9, "titleY": 8.5, "titleAlign": "center", "titleBaseline": "alphabetic", "titleFontSize": 12, "titleFontWeight": "normal", "titleColor": "#000"}}
  },
  "layer": [
    {
      "data": {"name": "band"},
      "mark": {"type": "area", "interpolate": "monotone", "fill": "#a8a8a8", "fillOpacity": 1, "stroke": "#4a4a4a", "strokeWidth": 0.9},
      "encoding": {"y2": {"field": "hi"}}
    },
    {
      "data": {"name": "models"},
      "mark": {"type": "line", "interpolate": "monotone", "strokeWidth": 1.1, "clip": true},
      "encoding": {
        "stroke": {
          "field": "s", "type": "nominal",
          "scale": {
            "domain": ["10-90 percentile","BCCR-BCM2.0","CCSM3","CGCM3.1(T47)","CGCM3.1(T63)","CNRM-CM3","CSIRO-Mk3.0","CSIRO-Mk3.5","ECHAM5","ECHO-G","FGOALS-g1.0","GFDL-CM2.0","GFDL-CM2.1","GISS-AOM","GISS-EH","GISS-ER","INGV-SXG","INM-CM3.0","IPSL-CM4","MIROC3.2(HI)","MIROC3.2(MED)","MRI-CGCM2.3.2","PCM","UKMO-HadCM3","UKMO-HadGEM1","IPCC MEAN","Observations"],
            "range": ["#3a3a3a","#ee2222","#ffb3c6","#ff22ff","#33e8ee","#44ee44","#2222cc","#222222","#3399dd","#aa10aa","#c8c0f0","#228b22","#20b2aa","#a0522d","#9040d0","#ff88b0","#ffc880","#8b7575","#8c8cd0","#5c4040","#2f6f50","#ffff80","#30a080","#c8c830","#5070b0","#000000","#ffff00"]
          },
          "legend": {
            "title": null, "orient": "none", "legendX": 466, "legendY": -3,
            "padding": 1.5, "strokeColor": "#333", "fillColor": "white",
            "symbolType": "stroke", "symbolSize": 576, "symbolStrokeWidth": 1.5, "symbolOffset": 7.5,
            "clipHeight": 10, "rowPadding": 0,
            "labelFontSize": 9, "labelFont": "Liberation Sans", "labelOffset": 9, "labelColor": "#000", "labelLimit": 120,
            "encode": {
              "symbols": {
                "update": {
                  "shape": {"signal": "datum.value === '10-90 percentile' ? 'M-0.6,-0.35H1V0.35H-0.6Z' : 'stroke'"},
                  "fill": {"signal": "datum.value === '10-90 percentile' ? '#a0a0a0' : 'transparent'"},
                  "strokeWidth": {"signal": "datum.value === 'IPCC MEAN' || datum.value === 'Observations' ? 3.5 : (datum.value === '10-90 percentile' ? 1 : 1.5)"}
                }
              }
            }
          }
        }
      }
    },
    {
      "data": {"name": "big"},
      "mark": {"type": "line", "interpolate": "monotone", "strokeWidth": 3.5, "clip": true},
      "encoding": {
        "stroke": {"field": "s", "type": "nominal"},
        "order": {"field": "x", "type": "quantitative"}
      }
    }
  ]
}
